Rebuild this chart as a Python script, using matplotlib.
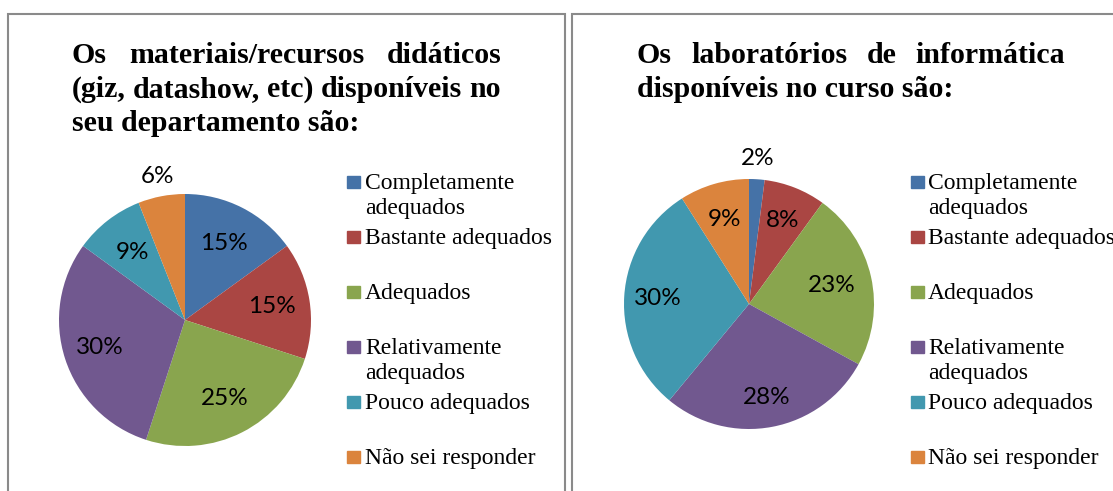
import matplotlib
matplotlib.use("Agg")
import matplotlib.pyplot as plt
from matplotlib.patches import Rectangle
import numpy as np

# dados
categorias = ["Completamente\nadequados", "Bastante adequados", "Adequados",
              "Relativamente\nadequados", "Pouco adequados", "Não sei responder"]
materiais = [15, 15, 25, 30, 9, 6]
laboratorios = [2, 8, 23, 28, 30, 9]
titulo_materiais = [["Os", "materiais/recursos", "didáticos"],
                    ["(giz,", "datashow,", "etc)", "disponíveis", "no"],
                    ["seu departamento são:"]]
titulo_laboratorios = [["Os", "laboratórios", "de", "informática"],
                       ["disponíveis no curso são:"]]

cores = ["#4572A7", "#AA4643", "#89A54E", "#71588F", "#4198AF", "#DB843D"]

W, H = 1113, 491
fig = plt.figure(figsize=(W / 100, H / 100), dpi=100)
renderer = fig.canvas.get_renderer()


def fx(x):
    return x / W


def fy(y):
    return 1 - y / H


def titulo(linhas, x0, x1, y0, passo):
    """Escreve o título justificado (a última linha alinhada à esquerda)."""
    for i, palavras in enumerate(linhas):
        y = fy(y0 + i * passo)
        textos = [fig.text(fx(x0), y, p, fontsize=21.5, fontweight="bold",
                           family="Liberation Serif", va="baseline")
                  for p in palavras]
        if i == len(linhas) - 1 or len(textos) == 1:
            continue
        larguras = [t.get_window_extent(renderer).width for t in textos]
        espaco = (x1 - x0 - sum(larguras)) / (len(textos) - 1)
        x = x0
        for t, w in zip(textos, larguras):
            t.set_x(fx(x))
            x += w + espaco


def legenda(x_quad, x_texto, y0):
    for i, (cat, cor) in enumerate(zip(categorias, cores)):
        yb = y0 + i * 55
        fig.patches.append(Rectangle((fx(x_quad), fy(yb - 1)), 13 / W, 12 / H,
                                     transform=fig.transFigure, color=cor))
        for j, linha in enumerate(cat.split("\n")):
            fig.text(fx(x_texto), fy(yb + j * 25), linha, fontsize=17,
                     family="Liberation Serif", va="baseline")


def pizza(valores, cx, cy, r, dist):
    ax = fig.add_axes([fx(cx - r), fy(cy + r), 2 * r / W, 2 * r / H])
    wedges, _ = ax.pie(valores, colors=cores, startangle=90, counterclock=False,
                       radius=1, wedgeprops=dict(linewidth=0))
    ax.set_xlim(-1, 1)
    ax.set_ylim(-1, 1)
    ax.set_aspect("equal")
    ax.axis("off")
    for w, v, d in zip(wedges, valores, dist):
        ang = np.deg2rad((w.theta1 + w.theta2) / 2)
        ax.text(d * np.cos(ang), d * np.sin(ang), f"{v}%", ha="center",
                va="center", fontsize=17.5, family="Lato", clip_on=False)


# molduras
for x0, x1 in [(7.5, 565), (571.5, 1130)]:
    fig.patches.append(Rectangle((fx(x0), fy(500)), (x1 - x0) / W, (500 - 13.5) / H,
                                 transform=fig.transFigure, fill=False,
                                 edgecolor="#8a8a8a", linewidth=1.5))

titulo(titulo_materiais, 71.5, 501, 63, 34)
titulo(titulo_laboratorios, 637, 1065, 63, 34)

pizza(materiais, 185, 320, 126, [0.68, 0.7, 0.7, 0.71, 0.68, 1.16])
pizza(laboratorios, 749, 304, 125, [1.17, 0.72, 0.68, 0.76, 0.73, 0.7])

legenda(347, 365, 189)
legenda(911, 928, 189)

fig.savefig("out.png", dpi=100)
